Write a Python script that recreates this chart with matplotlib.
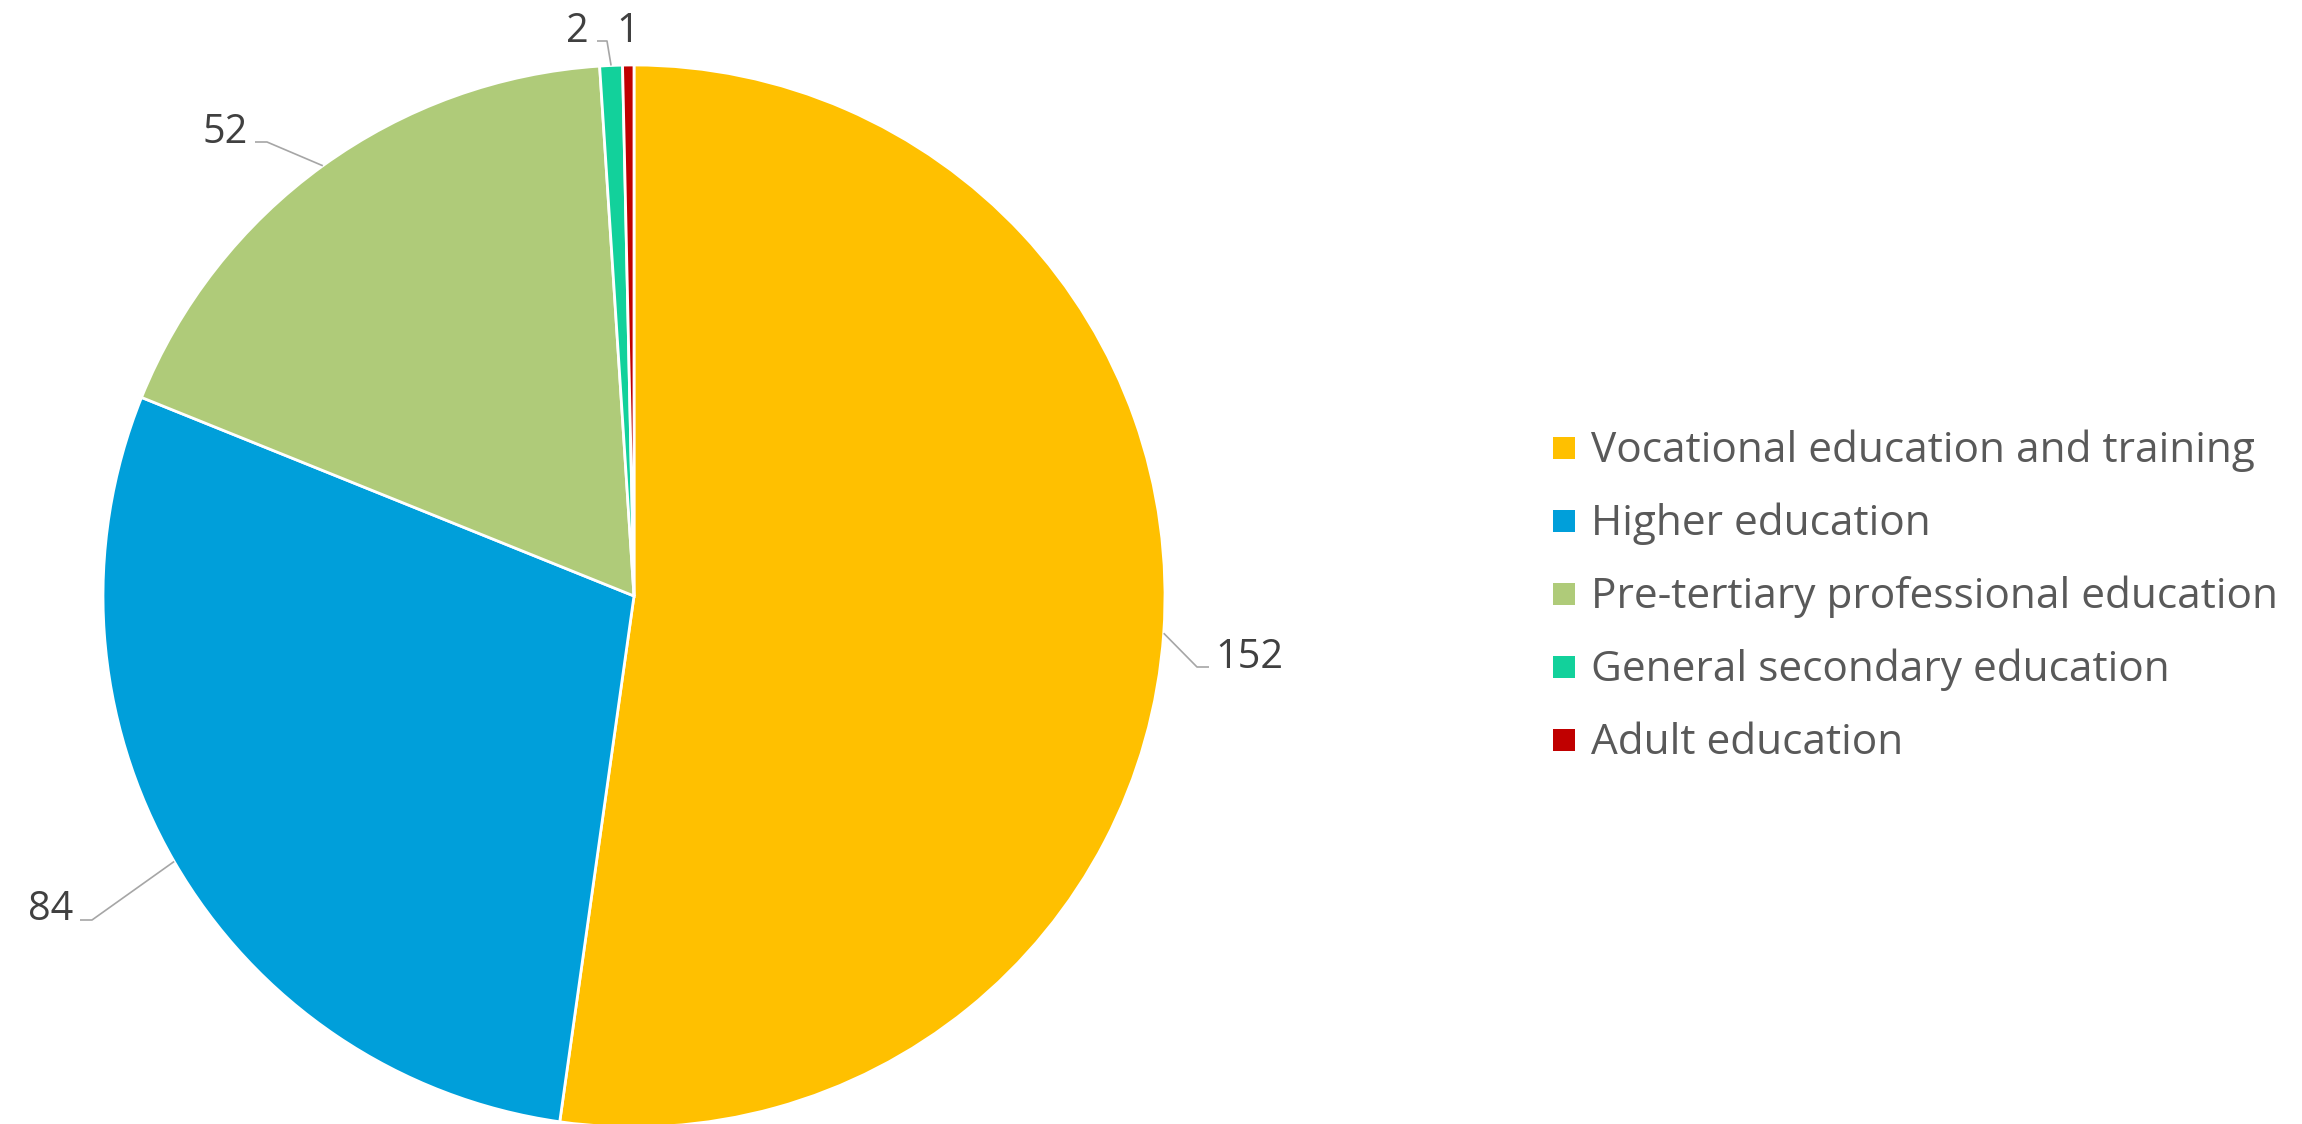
import matplotlib.pyplot as plt
import numpy as np
from matplotlib.patches import Rectangle

categories = ['Vocational education and training', 'Higher education',
              'Pre-tertiary professional education', 'General secondary education',
              'Adult education']
counts = [152, 84, 52, 2, 1]
colors = ['#FFC000', '#009FDA', '#AFCB79', '#12D19B', '#C00000']

W, H = 2302, 1124
CX, CY, R = 634, 596, 531

# label layout in pixel coords (y down): elbow x, end x, line y, text x, baseline, ha
label_layout = [
    (1197, 1209, 667, 1215, 668, 'left'),
    (92, 80, 920, 73, 920, 'right'),
    (267, 255, 142, 248, 143, 'right'),
    (607, 597, 41, 589, 42, 'right'),
    (None, None, None, 628, 42, 'center'),
]

plt.rcParams['font.family'] = ['Open Sans', 'DejaVu Sans']

fig = plt.figure(figsize=(W / 100, H / 100), dpi=100)
ax = fig.add_axes([0, 0, 1, 1])

# y axis gets flipped, so counterclock in data = clockwise on screen
wedges, _ = ax.pie(counts, colors=colors, startangle=-90, counterclock=True,
                   center=(CX, CY), radius=R,
                   wedgeprops=dict(edgecolor='white', linewidth=2))
ax.set_xlim(0, W)
ax.set_ylim(H, 0)
ax.axis('off')

for w, val, lay in zip(wedges, counts, label_layout):
    ex_, end_x, ly, tx, ty, ha = lay
    if ex_ is not None:
        mid = np.deg2rad((w.theta1 + w.theta2) / 2)
        px = CX + R * np.cos(mid)
        py = CY + R * np.sin(mid)
        ax.plot([px, ex_, end_x], [py, ly, ly], color='#A6A6A6', lw=1.2,
                solid_capstyle='butt')
    ax.text(tx, ty, str(val), ha=ha, va='baseline', fontsize=28.5, color='#404040')

for i, (cat, col) in enumerate(zip(categories, colors)):
    y0 = 448 + 73 * i
    ax.add_patch(Rectangle((1553, y0 - 11), 22, 22, color=col, lw=0))
    ax.text(1591, y0 + 14, cat, ha='left', va='baseline', fontsize=30.5,
            color='#595959')

fig.savefig('out.png', dpi=100)
